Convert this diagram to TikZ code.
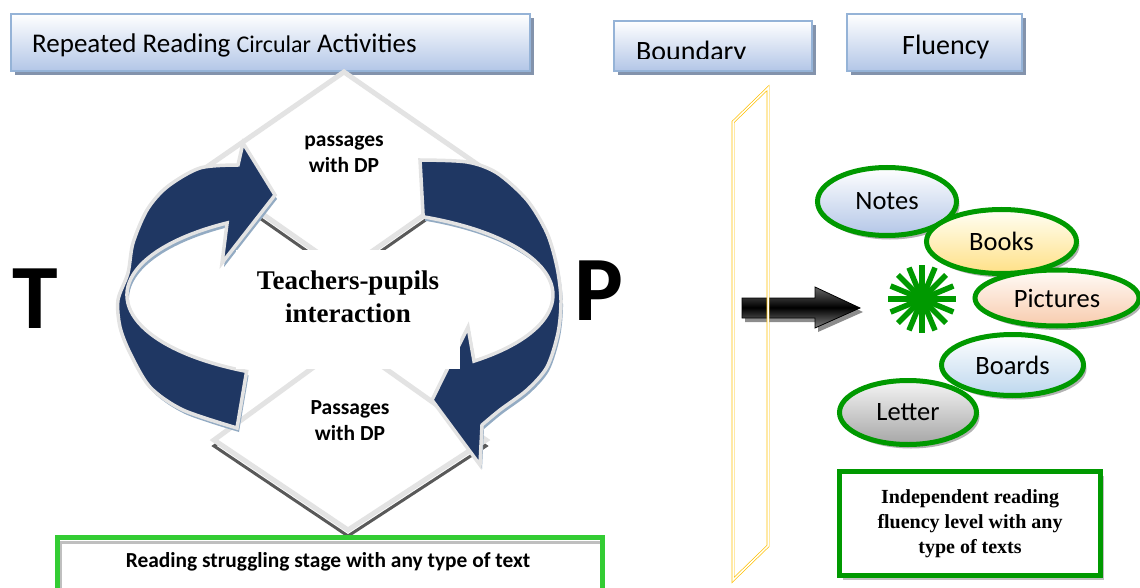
\documentclass[tikz,border=0pt]{standalone}
\usepackage{fontspec}
\setmainfont{Carlito}
\newfontfamily\timesfont{Liberation Serif}
\usepackage{tikz}
\usetikzlibrary{shapes.geometric,shadows}

\definecolor{headblue}{HTML}{B3C6E7}
\definecolor{headrim}{HTML}{95B3D7}
\definecolor{headshade}{HTML}{8393AC}
\definecolor{navy}{HTML}{1F3763}
\definecolor{navyshade}{HTML}{93ABC3}
\definecolor{rimgray}{HTML}{E3E3E3}
\definecolor{deepgreen}{HTML}{009900}
\definecolor{brightgreen}{HTML}{33CC33}
\definecolor{gold}{HTML}{FFC000}

\newcommand{\fsz}[2]{\fontsize{#1}{#2}\selectfont}

% the two curved arrows, inner side follows the ellipse centred at (340,295)
\newcommand{\loopleft}{(246.6,371.4) arc[start angle=116, end angle=238,
    x radius=213, y radius=85] -- (222,263) -- (275,195) -- (243,143)
    -- plot[smooth] coordinates {(238,165) (200,168) (167,187) (147,210)
    (133,243) (128,273) (118,300) (120,327) (130,353) (150,387) (183,410)
    (237,428)} -- cycle}
\newcommand{\loopright}{(420,160) -- plot[smooth] coordinates {(420,160)
    (467,162) (497,173) (527,200) (547,233) (557,267) (561,300) (558,333)
    (547,367) (527,390) (500,410) (482,425)} -- (480,465) -- (432,400)
    -- (468,327) -- (474.0,361.1) arc[start angle=51, end angle=-67,
    x radius=213, y radius=85] -- cycle}

\begin{document}
\begin{tikzpicture}[x=1pt, y=-1pt,
    header/.style = {draw=headrim, line width=1.6pt, top color=white,
        bottom color=headblue, inner sep=0pt, minimum height=57pt,
        anchor=north west, drop shadow={shadow xshift=4pt,
        shadow yshift=-4pt, fill=headshade, opacity=1}},
    headtext/.style = {anchor=base west, inner sep=0pt, font=\fsz{27}{30}},
    rim/.style = {draw=rimgray, fill=white, line width=5pt},
    rimshade/.style = {draw=black!65, line width=3pt, shift={(0,6)}},
    dptext/.style = {align=center, inner sep=0pt, font=\bfseries\fsz{21.5}{26}},
    swirl/.style = {draw=rimgray, fill=navy, line width=3.5pt},
    swirlshade/.style = {fill=navyshade, shift={(2,4)}},
    oval/.style = {ellipse, draw=deepgreen, line width=5pt, inner sep=0pt,
        font=\fsz{26.5}{28}, drop shadow={shadow xshift=3pt,
        shadow yshift=-4pt, fill=black!30, opacity=1}},
    side/.style = {inner sep=0pt, font=\bfseries\fsz{92}{92}}]

\useasboundingbox (0,0) rectangle (1140,588);

% headings
\node[header, minimum width=519pt] (title) at (10,13) {};
\node[headtext] (titletext) at (32,53)
    {Repeated Reading {\fsz{24}{30}Circular} Activities};
\node[header, minimum width=198pt, minimum height=50pt] (boundary) at (613,20) {};
\begin{scope}
    \clip (614,21) rectangle (812,58.5);
    \node[headtext, font=\fsz{28}{30}] (boundarytext) at (636,61) {Boundary};
\end{scope}
\node[header, minimum width=175pt] (fluency) at (846,13) {};
\node[headtext, font=\fsz{28}{30}] (fluencytext) at (902,55) {Fluency};

% the two diamonds
\draw[rimshade] (344,72) -- (487,171) -- (344,271) -- (201,171) -- cycle;
\draw[rim] (344,72) -- (487,171) -- (344,271) -- (201,171) -- cycle;
\draw[rimshade] (348,342) -- (486,440) -- (348,530) -- (214,440) -- cycle;
\draw[rim] (348,342) -- (486,440) -- (348,530) -- (214,440) -- cycle;
\node[dptext] (passtop) at (344,154) {passages\\with DP};
\node[dptext] (passbottom) at (350,421) {Passages\\with DP};

% circular arrows
\fill[swirlshade] \loopleft;
\draw[swirl] \loopleft;
\fill[swirlshade] \loopright;
\draw[swirl] \loopright;

\node[fill=white, minimum width=224pt, minimum height=119pt] (hub) at (348,309.5) {};
\node[align=center, inner sep=0pt, font=\timesfont\bfseries\fsz{27}{33}]
    (interaction) at (348,297) {Teachers-pupils\\interaction};

\node[side] (teacher) at (35,299) {T};
\node[side] (pupil) at (598.5,291) {P};

% struggling stage
\node[draw=brightgreen, line width=5pt, fill=white, inner sep=0pt,
    minimum width=545pt, minimum height=62pt, anchor=north west]
    (strugglebox) at (55,535) {};
\draw[black!25, line width=2.5pt] (61,592) -- (61,542.5) -- (600,542.5);
\node[inner sep=0pt, font=\bfseries\fsz{21.4}{24}] (struggle) at (328,562)
    {Reading struggling stage with any type of text};

% arrow through the boundary
\fill[black!45, shift={(3,4)}] (742,298) -- (815,298) -- (815,287) -- (860,308)
    -- (815,328) -- (815,318) -- (742,318) -- cycle;
\draw[black, line width=0.8pt, top color=black!60, bottom color=black!50,
    middle color=black] (742,298) -- (815,298) -- (815,287) -- (860,308)
    -- (815,328) -- (815,318) -- (742,318) -- cycle;
\draw[gold, double=white, double distance=1.5pt, line width=0.7pt]
    (733,122) -- (768,88) -- (768,546) -- (733,580) -- cycle;

% burst
\coordinate (burst) at (922,299);
\fill[deepgreen] (burst) circle[radius=13];
\foreach \a in {0,22.5,...,337.5}
    \draw[deepgreen, line width=5.5pt] (burst) -- ++(\a:34);

% kinds of text
\node[oval, top color=white, bottom color=headblue,
    minimum width=139pt, minimum height=68pt] (notes) at (887,201.5) {Notes};
\node[oval, top color=yellow!4, bottom color={rgb,255:red,255;green,224;blue,134},
    minimum width=150pt, minimum height=64pt] (books) at (1001.5,241.5) {Books};
\node[oval, top color=orange!3, bottom color={rgb,255:red,248;green,203;blue,173},
    minimum width=164pt, minimum height=56pt] (pictures) at (1057,298) {Pictures};
\node[oval, top color=white, bottom color={rgb,255:red,189;green,215;blue,238},
    minimum width=142pt, minimum height=61pt] (boards) at (1012.5,365) {Boards};
\node[oval, top color=black!4, bottom color=black!35,
    minimum width=137pt, minimum height=64pt] (letter) at (908,412.5) {Letter};

\node[draw=deepgreen, line width=5pt, fill=white, minimum width=261pt,
    minimum height=104pt, align=center, inner sep=0pt,
    font=\timesfont\bfseries\fsz{20}{25},
    drop shadow={shadow xshift=3pt, shadow yshift=-4pt, fill=black!25, opacity=1}]
    (independent) at (970,523.5)
    {Independent reading\\fluency level with any\\type of texts};
\end{tikzpicture}
\end{document}
